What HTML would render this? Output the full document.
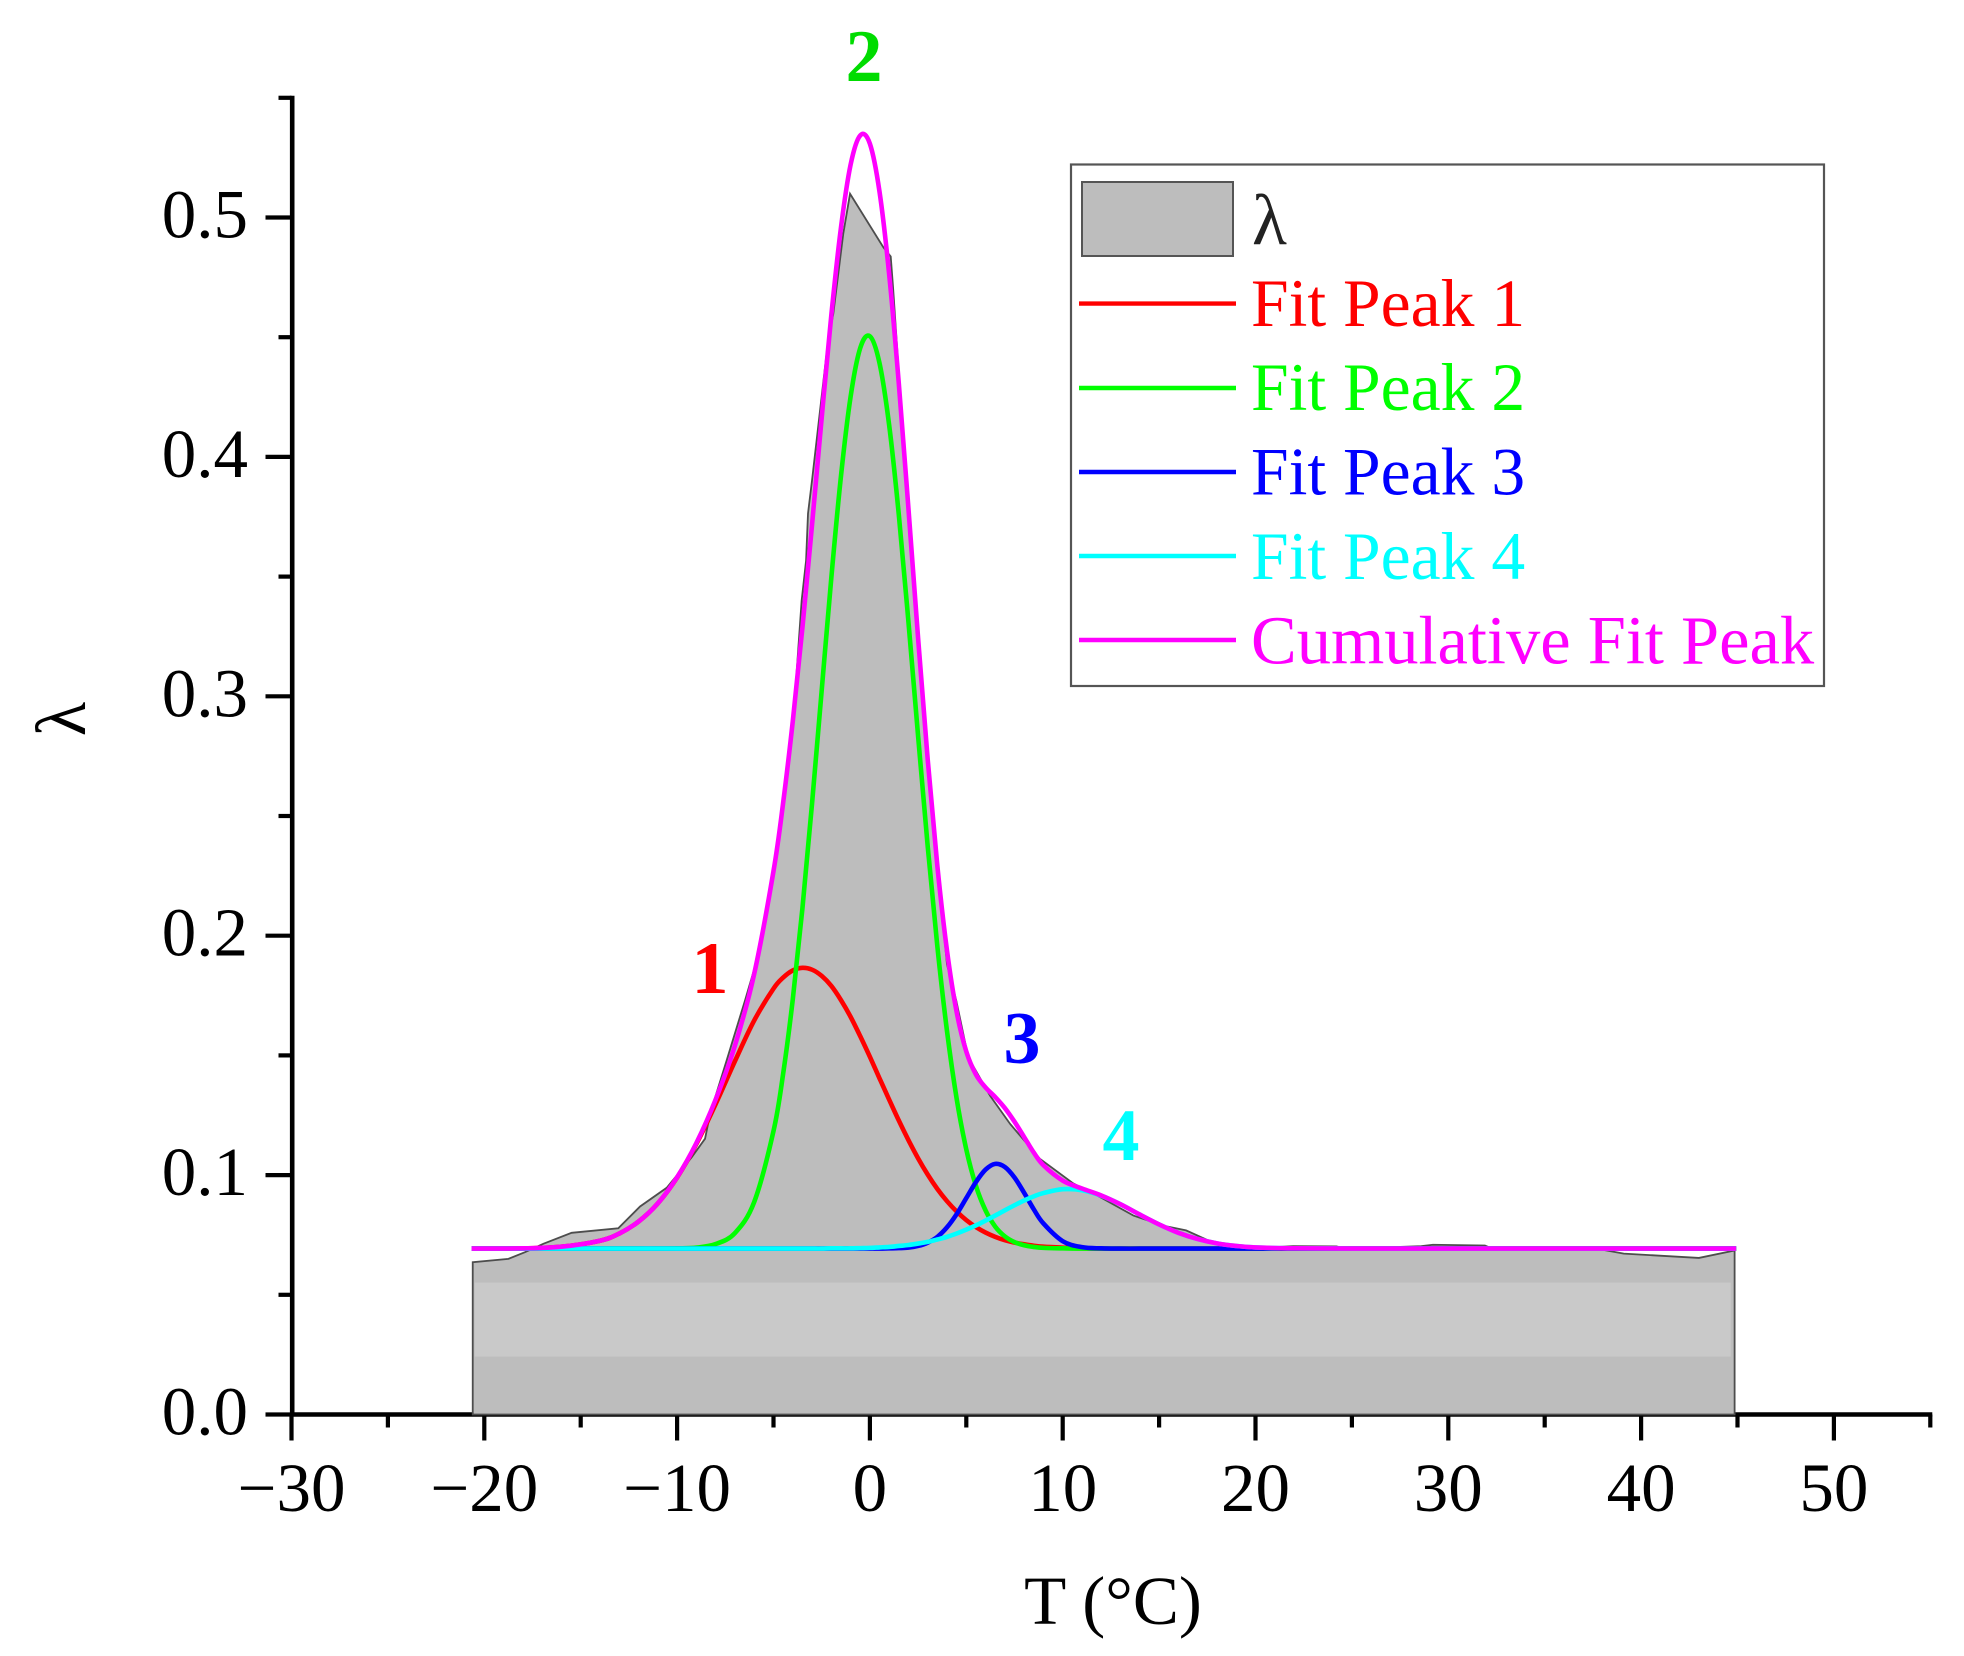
<!DOCTYPE html>
<html lang="en">
<head>
<meta charset="utf-8">
<title>Peak fit of lambda versus temperature</title>
<style>
html,body{margin:0;padding:0;background:#fff;}
svg{display:block;font-family:"Liberation Serif",serif;}
</style>
</head>
<body>
<svg id="chart" xmlns="http://www.w3.org/2000/svg" width="1964" height="1656" viewBox="0 0 1964 1656">
  <rect x="0" y="0" width="1964" height="1656" fill="#ffffff"/>
  <g id="axes"></g>
  <g id="marks"></g>
  <text x="1113" y="1624" font-size="69" text-anchor="middle" fill="#000">T (°C)</text>
  <text transform="translate(85,719) rotate(-90)" font-size="71" text-anchor="middle" fill="#000">λ</text>
  <text x="710" y="993" font-size="74" font-weight="bold" text-anchor="middle" fill="#ff0000">1</text>
  <text x="864" y="81" font-size="74" font-weight="bold" text-anchor="middle" fill="#00dc00">2</text>
  <text x="1022" y="1063" font-size="74" font-weight="bold" text-anchor="middle" fill="#0000ff">3</text>
  <text x="1121" y="1160" font-size="74" font-weight="bold" text-anchor="middle" fill="#00ffff">4</text>
  <g>
    <rect x="1071" y="164.5" width="753" height="521.5" fill="#ffffff" stroke="#555555" stroke-width="2.2"/>
    <rect x="1082" y="182" width="151" height="74" fill="#bdbdbd" stroke="#555555" stroke-width="2"/>
    <text x="1252" y="244" font-size="72" fill="#222222">λ</text>
    <line x1="1079" x2="1236" y1="303.6" y2="303.6" stroke="#ff0000" stroke-width="4.4"/>
    <text x="1251" y="326" font-size="67.6" fill="#ff0000">Fit Peak 1</text>
    <line x1="1079" x2="1236" y1="388" y2="388" stroke="#00ff00" stroke-width="4.4"/>
    <text x="1251" y="410" font-size="67.6" fill="#00ff00">Fit Peak 2</text>
    <line x1="1079" x2="1236" y1="472" y2="472" stroke="#0000ff" stroke-width="4.4"/>
    <text x="1251" y="494.5" font-size="67.6" fill="#0000ff">Fit Peak 3</text>
    <line x1="1079" x2="1236" y1="556" y2="556" stroke="#00ffff" stroke-width="4.4"/>
    <text x="1251" y="579" font-size="67.6" fill="#00ffff">Fit Peak 4</text>
    <line x1="1079" x2="1236" y1="640" y2="640" stroke="#ff00ff" stroke-width="4.4"/>
    <text x="1251" y="663.5" font-size="68.5" fill="#ff00ff">Cumulative Fit Peak</text>
  </g>
</svg>
<script>
const xTickValues = [-30,-20,-10,0,10,20,30,40,50];
const xMinorTickValues = [-25,-15,-5,5,15,25,35,45,55];
const yTickValues = [0,0.1,0.2,0.3,0.4,0.5];
const yMinorTickValues = [0.05,0.15,0.25,0.35,0.45,0.55];
const xTickLabels = ['\u221230','\u221220','\u221210','0','10','20','30','40','50'];
const yTickLabels = ['0.0','0.1','0.2','0.3','0.4','0.5'];

const areaTemps = [-20.6,-18.75,-17.89,-16.94,-15.47,-13.05,-11.92,-10.54,-9.24,-8.55,-8.29,-7.43,-6.48,-6,-5,-4,-3.54,-3.31,-3.21,-3.0,-2.17,-1.9,-1.38,-1.03,0.695,1.08,1.2,2,3,4,4.48,5.1,6.23,7.27,8.82,10.55,11.94,13.67,15.2,16.4,17.64,19.35,21.95,24.2,24.7,28.6,29.2,31.9,32.3,35,38,39.1,43,44.85];
const areaValues = [0.0636,0.065,0.0678,0.0713,0.0759,0.0778,0.0869,0.0947,0.1075,0.1152,0.1256,0.1479,0.1729,0.186,0.226,0.287,0.34,0.3567,0.3764,0.3903,0.4486,0.4597,0.4933,0.5099,0.4876,0.4837,0.4709,0.375,0.27,0.188,0.1729,0.1492,0.1332,0.1214,0.1068,0.0965,0.0908,0.0831,0.0789,0.0769,0.0724,0.0692,0.0703,0.0702,0.0692,0.0703,0.0709,0.0706,0.0692,0.0688,0.0688,0.0672,0.0654,0.0685];
const bandTemps = [-20.5,44.65];
const bandValues = [0.0242,0.0551];

const fitTemps = [-20.66,-18,-16,-14,-13,-12,-11,-10,-9,-8,-7,-6,-5,-4.5,-4,-3.5,-3,-2.5,-2,-1.5,-1,-0.5,0,0.5,1,1.5,2,2.5,3,3.5,4,4.5,5,5.5,6,6.5,7,7.5,8,8.5,9,10,11,12,13,14,15,16,17,18,19,20,22,25,30,35,40,44.93];
const peak1Values = [0.0693,0.0694,0.0701,0.0726,0.0756,0.0806,0.0882,0.0990,0.1130,0.1297,0.1476,0.1646,0.1779,0.1825,0.1855,0.1866,0.1858,0.1832,0.1790,0.1731,0.1661,0.1580,0.1494,0.1404,0.1315,0.1228,0.1146,0.1070,0.1002,0.0942,0.0891,0.0848,0.0812,0.0783,0.0760,0.0742,0.0728,0.0718,0.0711,0.0705,0.0701,0.0697,0.0694,0.0693,0.0693,0.0693,0.0693,0.0693,0.0693,0.0693,0.0693,0.0693,0.0693,0.0693,0.0693,0.0693,0.0693,0.0693];
const peak2Values = [0.0693,0.0693,0.0693,0.0693,0.0693,0.0693,0.0693,0.0694,0.0697,0.0712,0.0758,0.0888,0.1184,0.1423,0.1734,0.2114,0.2553,0.3025,0.3496,0.3920,0.4252,0.4455,0.4504,0.4391,0.4132,0.3758,0.3310,0.2834,0.2372,0.1954,0.1601,0.1319,0.1107,0.0955,0.0852,0.0785,0.0744,0.0720,0.0707,0.0700,0.0696,0.0694,0.0693,0.0693,0.0693,0.0693,0.0693,0.0693,0.0693,0.0693,0.0693,0.0693,0.0693,0.0693,0.0693,0.0693,0.0693,0.0693];
const peak3Values = [0.0693,0.0693,0.0693,0.0693,0.0693,0.0693,0.0693,0.0693,0.0693,0.0693,0.0693,0.0693,0.0693,0.0693,0.0693,0.0693,0.0693,0.0693,0.0693,0.0693,0.0693,0.0693,0.0693,0.0693,0.0694,0.0695,0.0697,0.0704,0.0718,0.0742,0.0782,0.0837,0.0904,0.0971,0.1023,0.1047,0.1034,0.0990,0.0926,0.0857,0.0798,0.0724,0.0699,0.0694,0.0693,0.0693,0.0693,0.0693,0.0693,0.0693,0.0693,0.0693,0.0693,0.0693,0.0693,0.0693,0.0693,0.0693];
const peak4Values = [0.0693,0.0693,0.0693,0.0693,0.0693,0.0693,0.0693,0.0693,0.0693,0.0693,0.0693,0.0693,0.0693,0.0693,0.0693,0.0693,0.0693,0.0693,0.0694,0.0694,0.0694,0.0695,0.0696,0.0698,0.0700,0.0704,0.0708,0.0714,0.0721,0.0731,0.0742,0.0756,0.0772,0.0790,0.0810,0.0831,0.0853,0.0874,0.0894,0.0911,0.0925,0.0941,0.0937,0.0914,0.0878,0.0835,0.0794,0.0759,0.0733,0.0715,0.0704,0.0698,0.0694,0.0693,0.0693,0.0693,0.0693,0.0693];
const cumulativeValues = [0.0693,0.0694,0.0701,0.0726,0.0756,0.0806,0.0882,0.0991,0.1134,0.1316,0.1541,0.1841,0.2270,0.2555,0.2896,0.3287,0.3718,0.4164,0.4593,0.4958,0.5221,0.5343,0.5308,0.5107,0.4762,0.4306,0.3783,0.3243,0.2734,0.2290,0.1937,0.1681,0.1516,0.1420,0.1366,0.1326,0.1280,0.1223,0.1159,0.1094,0.1041,0.0977,0.0944,0.0915,0.0878,0.0835,0.0794,0.0759,0.0733,0.0715,0.0704,0.0698,0.0694,0.0693,0.0693,0.0693,0.0693,0.0693];

const SVG_NS = 'http://www.w3.org/2000/svg';
function xScale(t) { return 291.5 + (t + 30) * 19.28; }
function yScale(v) { return 1414.5 - v * 2394; }

const axes = document.getElementById('axes');
const marks = document.getElementById('marks');

function make(tag, parent, attrs) {
  const el = document.createElementNS(SVG_NS, tag);
  Object.keys(attrs).forEach(function (k) { el.setAttribute(k, attrs[k]); });
  parent.appendChild(el);
  return el;
}

function smoothPath(xs, ys) {
  const pts = xs.map(function (t, i) { return [xScale(t), yScale(ys[i])]; });
  let d = 'M' + pts[0][0].toFixed(2) + ' ' + pts[0][1].toFixed(2);
  for (let i = 0; i < pts.length - 1; i++) {
    const p0 = pts[Math.max(i - 1, 0)];
    const p1 = pts[i];
    const p2 = pts[i + 1];
    const p3 = pts[Math.min(i + 2, pts.length - 1)];
    const c1x = p1[0] + (p2[0] - p0[0]) / 6;
    const c1y = p1[1] + (p2[1] - p0[1]) / 6;
    const c2x = p2[0] - (p3[0] - p1[0]) / 6;
    const c2y = p2[1] - (p3[1] - p1[1]) / 6;
    d += 'C' + c1x.toFixed(2) + ' ' + c1y.toFixed(2) + ' ' + c2x.toFixed(2) + ' ' + c2y.toFixed(2) + ' ' + p2[0].toFixed(2) + ' ' + p2[1].toFixed(2);
  }
  return d;
}

/* axis lines */
const xAxisLine = make('line', axes, {x1: xScale(-30), x2: xScale(55) + 2, y1: yScale(0), y2: yScale(0), stroke: '#000', 'stroke-width': 4.6});


const yAxisLine = make('line', axes, {x1: xScale(-30) + 0.7, x2: xScale(-30) + 0.7, y1: yScale(0.55) - 2, y2: yScale(0) + 2, stroke: '#000', 'stroke-width': 4.6});



/* x ticks */
xTickValues.forEach(function (t, i) {
  const tick = make('line', axes, {x1: xScale(t), x2: xScale(t), y1: yScale(0), y2: yScale(0) + 26, stroke: '#000', 'stroke-width': 4.2});
  
  
  const label = make('text', axes, {x: xScale(t), y: 1511, 'font-size': 69, 'text-anchor': 'middle', fill: '#000'});
  label.textContent = xTickLabels[i];
  
  
});
xMinorTickValues.forEach(function (t) {
  const tick = make('line', axes, {x1: xScale(t), x2: xScale(t), y1: yScale(0), y2: yScale(0) + 13, stroke: '#000', 'stroke-width': 4.2});
  
  
});

/* y ticks */
yTickValues.forEach(function (v, i) {
  const tick = make('line', axes, {x1: xScale(-30) - 26, x2: xScale(-30), y1: yScale(v), y2: yScale(v), stroke: '#000', 'stroke-width': 4.2});
  
  
  const label = make('text', axes, {x: 248, y: yScale(v) + 20, 'font-size': 69, 'text-anchor': 'end', fill: '#000'});
  label.textContent = yTickLabels[i];
  
  
});
yMinorTickValues.forEach(function (v) {
  const tick = make('line', axes, {x1: xScale(-30) - 13, x2: xScale(-30), y1: yScale(v), y2: yScale(v), stroke: '#000', 'stroke-width': 4.2});
  
  
});

/* lambda area */
let areaD = 'M' + xScale(areaTemps[0]).toFixed(2) + ' ' + yScale(0).toFixed(2);
areaTemps.forEach(function (t, i) {
  areaD += 'L' + xScale(t).toFixed(2) + ' ' + yScale(areaValues[i]).toFixed(2);
});
areaD += 'L' + xScale(areaTemps[areaTemps.length - 1]).toFixed(2) + ' ' + yScale(0).toFixed(2) + 'Z';
const area = make('path', marks, {d: areaD, fill: '#bdbdbd', stroke: '#4d4d4d', 'stroke-width': 1.8, 'stroke-linejoin': 'miter'});



/* lighter band inside the area */
const band = make('rect', marks, {
  x: xScale(bandTemps[0]),
  y: yScale(bandValues[1]),
  width: xScale(bandTemps[1]) - xScale(bandTemps[0]),
  height: yScale(bandValues[0]) - yScale(bandValues[1]),
  fill: '#c9c9c9'
});



/* fit curves */
const curvePeak1 = make('path', marks, {d: smoothPath(fitTemps, peak1Values), fill: 'none', stroke: '#ff0000', 'stroke-width': 4.6});


const curvePeak2 = make('path', marks, {d: smoothPath(fitTemps, peak2Values), fill: 'none', stroke: '#00ff00', 'stroke-width': 4.6});


const curvePeak3 = make('path', marks, {d: smoothPath(fitTemps, peak3Values), fill: 'none', stroke: '#0000ff', 'stroke-width': 4.6});


const curvePeak4 = make('path', marks, {d: smoothPath(fitTemps, peak4Values), fill: 'none', stroke: '#00ffff', 'stroke-width': 4.6});


const curveCumulative = make('path', marks, {d: smoothPath(fitTemps, cumulativeValues), fill: 'none', stroke: '#ff00ff', 'stroke-width': 4.6});


</script>
</body>
</html>
